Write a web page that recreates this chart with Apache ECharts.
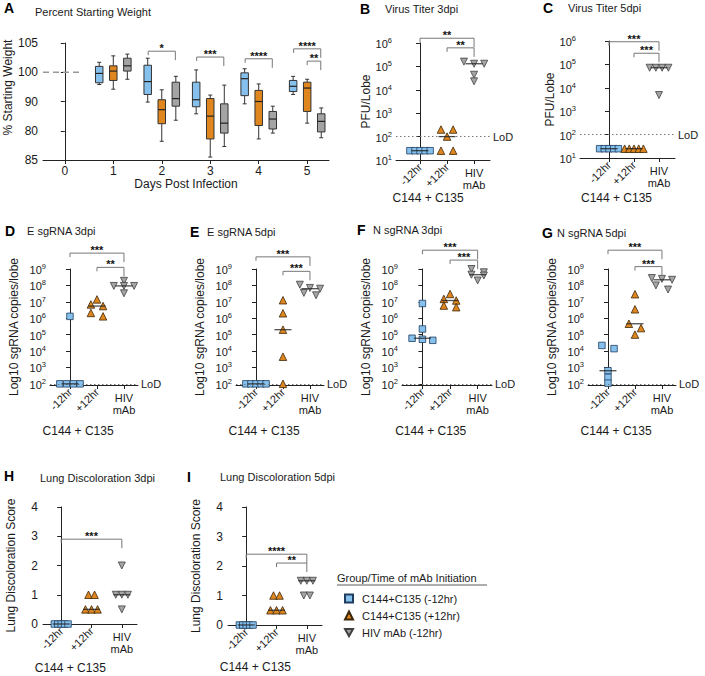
<!DOCTYPE html>
<html><head><meta charset="utf-8">
<script src="https://cdn.jsdelivr.net/npm/echarts@6/dist/echarts.min.js"></script>
<style>html,body{margin:0;padding:0;background:#fff}#c{width:705px;height:676px}</style>
</head><body><div id="c"></div>
<script>
// ---------------- DATA ----------------
const groups = ['C144+C135 (-12hr)', 'C144+C135 (+12hr)', 'HIV mAb (-12hr)'];
const catLabels = ['-12hr', '+12hr', 'HIV\nmAb'];

// Panel A: percent starting weight, box stats [min, q1, median, q3, max] per day
const weightDays = [1, 2, 3, 4, 5];
const weightTicks = [85, 90, 95, 100, 105];
const weightTickLabels = ['85', '80', '90', '100', '105'];
const weightM12 = [[97.9,98.2,99.8,101.0,101.7],[94.9,96.2,98.4,101.2,102.4],[92.9,94.1,95.3,98.3,100.4],[94.6,96.0,98.9,99.9,100.6],[96.2,96.7,97.6,98.6,99.3]];
const weightP12 = [[97.1,98.6,100.2,101.1,102.8],[88.2,91.2,93.6,95.3,97.0],[85.5,88.6,92.5,95.5,96.1],[88.6,90.9,95.0,96.9,98.0],[91.3,93.3,97.3,98.3,98.8]];
const weightHIV = [[98.8,100.2,101.1,102.4,103.1],[91.8,94.2,95.5,98.3,99.3],[87.3,89.6,91.3,94.6,97.8],[89.6,90.3,92.0,93.3,94.2],[88.8,89.8,91.6,92.9,93.9]];
const weightBaseline = [[-0.45, 100], [0.35, 100]];
const weightBrackets = [[1.72, 2.28, 103.6], [2.72, 3.28, 102.6], [3.72, 4.28, 102.3], [4.72, 5.28, 104.0], [5.0, 5.28, 101.9]];
const weightStars = ['*', '***', '****', '****', '**'];

// Panel B: virus titer 3dpi (PFU/lobe)
const titerB_m12 = [25, 25, 25, 25, 25];
const titerB_p12 = [200, 200, 100, 25, 25];
const titerB_hiv = [1.3e5, 1.6e5, 1.3e5, 4.4e4, 2.3e4];
const bracketsB = [[0, 2, 1.6e6], [1, 2, 6.2e5]];
const starsB = ['**', '**'];

// Panel C: virus titer 5dpi
const titerC_m12 = [25, 25, 25, 25, 25];
const titerC_p12 = [25, 25, 25, 25, 25];
const titerC_hiv = [7.2e4, 7.2e4, 7.2e4, 7.2e4, 4.9e3];
const bracketsC = [[0, 2, 9.3e5], [1, 2, 3.0e5]];
const starsC = ['***', '***'];

// Panel D: E sgRNA 3dpi
const esg3_m12 = [1.3e6, 100, 100, 100, 100];
const esg3_p12 = [1.4e7, 6.9e6, 5.5e6, 2.1e6, 1.3e6];
const esg3_hiv = [1.9e8, 9.3e7, 9.3e7, 9.3e7, 3.3e7];
const bracketsD = [[0, 2, 9.3e9], [1, 2, 1.26e9]];
const starsD = ['***', '**'];

// Panel E: E sgRNA 5dpi
const esg5_m12 = [100, 100, 100, 100, 100];
const esg5_p12 = [1.25e7, 2.0e6, 2.0e5, 4.5e3, 100];
const esg5_hiv = [1.1e8, 7.0e7, 6.3e7, 3.5e7, 2.5e7];
const bracketsE = [[0, 2, 5.5e9], [1, 2, 7.2e8]];
const starsE = ['***', '***'];

// Panel F: N sgRNA 3dpi
const nsg3_m12 = [7.9e6, 2.2e5, 6.0e4, 5.2e4, 4.5e4];
const nsg3_p12 = [3.0e7, 1.5e7, 1.2e7, 5.9e6, 4.7e6];
const nsg3_hiv = [1.0e9, 6.3e8, 4.5e8, 4.0e8, 2.0e8];
const bracketsF = [[0, 2, 1.4e10], [1, 2, 3.5e9]];
const starsF = ['***', '***'];

// Panel G: N sgRNA 5dpi
const nsg5_m12 = [2.2e4, 1.4e4, 630, 250, 110];
const nsg5_p12 = [2.9e7, 3.5e6, 4.6e5, 2.5e5, 1.0e5];
const nsg5_hiv = [2.8e8, 2.5e8, 2.2e8, 1.0e8, 5.6e7];
const bracketsG = [[0, 2, 1.4e10], [1, 2, 1.4e9]];
const starsG = ['***', '***'];

// Panel H: lung discoloration 3dpi
const lung3_m12 = [0, 0, 0, 0, 0];
const lung3_p12 = [1, 1, 0.5, 0.5, 0.5];
const lung3_hiv = [2, 1, 1, 1, 0.5];
const bracketsH = [[0, 2, 2.9]];
const starsH = ['***'];

// Panel I: lung discoloration 5dpi
const lung5_m12 = [0, 0, 0, 0, 0];
const lung5_p12 = [1, 1, 0.5, 0.5, 0.5];
const lung5_hiv = [1.5, 1.5, 1.5, 1, 1];
const bracketsI = [[0, 2, 2.4], [1, 2, 2.1]];
const starsI = ['****', '**'];

// ---------------- STYLE / LAYOUT ----------------
const FONT = '"Liberation Sans", Arial, Helvetica, sans-serif';
const TXT = '#1a1a1a';
const COLORS = ['#86c1ee', '#df861f', '#a4a4a4'];
const BORDERS = ['#1f3d5e', '#3b2608', '#404040'];
const SYMBOLS = ['rect', 'triangle', 'path://M0,0L10,0L5,9Z'];
const SYMSIZE = [6.5, 7.5, 7];

const dotPanels = [
  {letter:'B', title:'Virus Titer 3dpi', yName:'PFU/Lobe', log:true, min:10, max:1e6, lod:100,
   values:[titerB_m12, titerB_p12, titerB_hiv], brackets:bracketsB, stars:starsB,
   grid:{left:396, top:43, width:94, height:117}, xr:[-0.89, 2.59], nameGap:22,
   letterPos:[360, 9], titlePos:[385, 9], subY:198, sp:[0.45, 0.75]},
  {letter:'C', title:'Virus Titer 5dpi', yName:'PFU/Lobe', log:true, min:10, max:1e6, lod:100,
   values:[titerC_m12, titerC_p12, titerC_hiv], brackets:bracketsC, stars:starsC,
   grid:{left:580, top:41, width:95, height:117}, xr:[-1.16, 2.64], nameGap:22,
   letterPos:[543, 8], titlePos:[568, 8], subY:198, sp:[0.45, 0.75]},
  {letter:'D', title:'E sgRNA 3dpi', yName:'Log10 sgRNA copies/lobe', log:true, min:85, max:1e9, lod:100,
   values:[esg3_m12, esg3_p12, esg3_hiv], brackets:bracketsD, stars:starsD,
   grid:{left:50, top:269, width:88, height:116}, xr:[-0.74, 2.52], nameGap:30,
   letterPos:[5, 231], titlePos:[27, 231], subY:431, sp:[0.45, 0.75]},
  {letter:'E', title:'E sgRNA 5dpi', yName:'Log10 sgRNA copies/lobe', log:true, min:85, max:1e9, lod:100,
   values:[esg5_m12, esg5_p12, esg5_hiv], brackets:bracketsE, stars:starsE,
   grid:{left:236, top:269, width:88, height:116}, xr:[-0.74, 2.52], nameGap:30,
   letterPos:[190, 232], titlePos:[207, 232], subY:431, sp:[0.45, 0.75]},
  {letter:'F', title:'N sgRNA 3dpi', yName:'Log10 sgRNA copies/lobe', log:true, min:85, max:1e9, lod:100,
   values:[nsg3_m12, nsg3_p12, nsg3_hiv], brackets:bracketsF, stars:starsF,
   grid:{left:402, top:269, width:90, height:116}, xr:[-0.74, 2.52], nameGap:30,
   letterPos:[357, 230], titlePos:[373, 230], subY:431, sp:[0.45, 0.75]},
  {letter:'G', title:'N sgRNA 5dpi', yName:'Log10 sgRNA copies/lobe', log:true, min:85, max:1e9, lod:100,
   values:[nsg5_m12, nsg5_p12, nsg5_hiv], brackets:bracketsG, stars:starsG,
   grid:{left:588, top:269, width:88, height:116}, xr:[-0.74, 2.52], nameGap:30,
   letterPos:[542, 233], titlePos:[557, 233], subY:431, sp:[0.45, 0.75]},
  {letter:'H', title:'Lung Discoloration 3dpi', yName:'Lung Discoloration Score', log:false, min:0, max:4,
   values:[lung3_m12, lung3_p12, lung3_hiv], brackets:bracketsH, stars:starsH,
   grid:{left:43, top:507, width:94, height:117}, xr:[-0.6, 2.5], nameGap:26,
   letterPos:[4, 476], titlePos:[40, 478], subY:668, sp:[0.2, 0.45]},
  {letter:'I', title:'Lung Discoloration 5dpi', yName:'Lung Discoloration Score', log:false, min:0, max:4,
   values:[lung5_m12, lung5_p12, lung5_hiv], brackets:bracketsI, stars:starsI,
   grid:{left:228, top:507, width:94, height:118}, xr:[-0.6, 2.5], nameGap:26,
   letterPos:[187, 477], titlePos:[220, 477], subY:667, sp:[0.2, 0.45]}
];

// ---------------- HELPERS ----------------
function median(arr) {
  const s = arr.slice().sort((a, b) => a - b);
  const n = s.length;
  return n % 2 ? s[(n - 1) / 2] : (s[n / 2 - 1] + s[n / 2]) / 2;
}
// spread points with (nearly) equal values side by side, GraphPad style
function spread(vals, gi, log, sp) {
  const t = vals.map(v => log ? Math.log10(v) : v);
  const thresh = log ? 0.27 : 0.1;
  const order = t.map((v, i) => i).sort((a, b) => t[b] - t[a]);
  const rows = [];
  order.forEach(i => {
    const r = rows[rows.length - 1];
    if (r && Math.abs(t[r[0]] - t[i]) < thresh) r.push(i); else rows.push([i]);
  });
  const out = [];
  rows.forEach(r => {
    const n = r.length;
    const step = n > 1 ? Math.min(sp[0], sp[1] / (n - 1)) : 0;
    r.forEach((i, k) => out.push([gi + (k - (n - 1) / 2) * step, vals[i]]));
  });
  return out;
}
function bracketSeries(xi, yi, data, stars) {
  return {
    type: 'custom', xAxisIndex: xi, yAxisIndex: yi, clip: false, silent: true, z: 6,
    encode: {x: [0, 1], y: 2},
    data: data,
    renderItem: function (params, api) {
      const y = api.value(2);
      const p1 = api.coord([api.value(0), y]);
      const p2 = api.coord([api.value(1), y]);
      return {type: 'group', children: [
        {type: 'polyline', shape: {points: [[p1[0], p1[1] + 4], [p1[0], p1[1]], [p2[0], p2[1]], [p2[0], p2[1] + 9]]},
         style: {stroke: '#777', lineWidth: 1, fill: null}},
        {type: 'text', style: {text: stars[params.dataIndex], x: (p1[0] + p2[0]) / 2, y: p1[1] + 2.5,
         align: 'center', verticalAlign: 'bottom', fontSize: 11, fontWeight: 'bold', fill: '#111', fontFamily: FONT}}
      ]};
    }
  };
}

const grids = [], xAxes = [], yAxes = [], series = [], graphics = [];
const axisLineStyle = {lineStyle: {color: '#222', width: 1}};

// ---------------- PANEL A ----------------
grids.push({left: 43, top: 43, width: 286, height: 117, outerBoundsMode: 'none', containLabel: false});
xAxes.push({gridIndex: 0, type: 'value', position: 'bottom', min: -0.45, max: 5.45, splitLine: {show: false},
  axisLine: Object.assign({show: true}, axisLineStyle),
  axisTick: {show: true, customValues: [0, 1, 2, 3, 4, 5], length: 4, lineStyle: {color: '#222'}},
  axisLabel: {customValues: [0, 1, 2, 3, 4, 5], fontSize: 12, color: TXT, fontFamily: FONT, margin: 5},
  name: 'Days Post Infection', nameLocation: 'middle', nameGap: 18,
  nameTextStyle: {fontSize: 12, color: TXT, fontFamily: FONT}});
yAxes.push({gridIndex: 0, type: 'value', min: 85, max: 105, interval: 5, splitLine: {show: false},
  axisLine: Object.assign({show: true}, axisLineStyle),
  axisTick: {show: true, length: 4, lineStyle: {color: '#222'}},
  axisLabel: {fontSize: 12, color: TXT, fontFamily: FONT, margin: 5,
    formatter: v => weightTickLabels[weightTicks.indexOf(v)]},
  name: '% Starting Weight', nameLocation: 'middle', nameGap: 29, nameRotate: 90,
  nameTextStyle: {fontSize: 12, color: TXT, fontFamily: FONT, padding: [0, 0, 0, 28]}});

const boxOffsets = [-0.29, 0, 0.29];
[weightM12, weightP12, weightHIV].forEach((stats, g) => {
  series.push({
    type: 'custom', xAxisIndex: 0, yAxisIndex: 0, silent: true, clip: false, z: 3,
    encode: {x: 0, y: [1, 2, 3, 4, 5]},
    data: stats.map((s, i) => [weightDays[i] + boxOffsets[g]].concat(s)),
    renderItem: function (params, api) {
      const x = api.value(0);
      const pt = k => api.coord([x, api.value(k)]);
      const pMin = pt(1), pQ1 = pt(2), pMed = pt(3), pQ3 = pt(4), pMax = pt(5);
      const w = 7.5, cap = 2;
      const cx = pMed[0];
      const ls = {stroke: '#333', lineWidth: 1};
      return {type: 'group', children: [
        {type: 'line', shape: {x1: cx, y1: pMax[1], x2: cx, y2: pQ3[1]}, style: ls},
        {type: 'line', shape: {x1: cx, y1: pQ1[1], x2: cx, y2: pMin[1]}, style: ls},
        {type: 'line', shape: {x1: cx - cap, y1: pMax[1], x2: cx + cap, y2: pMax[1]}, style: ls},
        {type: 'line', shape: {x1: cx - cap, y1: pMin[1], x2: cx + cap, y2: pMin[1]}, style: ls},
        {type: 'rect', shape: {x: cx - w / 2, y: pQ3[1], width: w, height: pQ1[1] - pQ3[1]},
         style: {fill: COLORS[g], stroke: '#333', lineWidth: 1}},
        {type: 'line', shape: {x1: cx - w / 2, y1: pMed[1], x2: cx + w / 2, y2: pMed[1]}, style: {stroke: '#222', lineWidth: 1.2}}
      ]};
    }
  });
});
series.push({type: 'line', xAxisIndex: 0, yAxisIndex: 0, data: weightBaseline, symbol: 'none', silent: true,
  lineStyle: {color: '#999', width: 1.3, type: [6, 4]}});
series.push(bracketSeries(0, 0, weightBrackets, weightStars));
graphics.push({type: 'text', x: 4, y: 8, style: {text: 'A', fontSize: 14, fontWeight: 'bold', fill: '#000', fontFamily: FONT, verticalAlign: 'middle'}});
graphics.push({type: 'text', x: 35, y: 12, style: {text: 'Percent Starting Weight', fontSize: 11, fill: TXT, fontFamily: FONT, verticalAlign: 'middle'}});

// ---------------- DOT PANELS ----------------
dotPanels.forEach((p, i) => {
  const gi = i + 1;
  grids.push(Object.assign({outerBoundsMode: 'none', containLabel: false}, p.grid));
  const xa = xAxes.length;
  xAxes.push({gridIndex: gi, type: 'value', position: 'bottom', min: p.xr[0], max: p.xr[1], splitLine: {show: false},
    axisLine: Object.assign({show: true}, axisLineStyle),
    axisTick: {show: true, customValues: [0, 1, 2], length: 4, lineStyle: {color: '#222'}},
    axisLabel: {customValues: [0, 1], rotate: 45, fontSize: 11, color: TXT, fontFamily: FONT, margin: 5,
      formatter: v => catLabels[Math.round(v)]}});
  xAxes.push({gridIndex: gi, type: 'value', position: 'bottom', offset: 0, min: p.xr[0], max: p.xr[1], splitLine: {show: false},
    axisLine: {show: false}, axisTick: {show: false},
    axisLabel: {customValues: [2], fontSize: 11, lineHeight: 12, color: TXT, fontFamily: FONT, margin: 7,
      formatter: v => catLabels[Math.round(v)]}});
  const ya = yAxes.length;
  const y = {gridIndex: gi, min: p.min, max: p.max, splitLine: {show: false},
    axisLine: Object.assign({show: true}, axisLineStyle),
    axisTick: {show: true, length: 4, lineStyle: {color: '#222'}},
    name: p.yName, nameLocation: 'middle', nameGap: p.nameGap, nameRotate: 90,
    nameTextStyle: {fontSize: 12, color: TXT, fontFamily: FONT}};
  if (p.log) {
    const ticks = [];
    for (let e = Math.ceil(Math.log10(p.min)); e <= Math.log10(p.max) + 1e-9; e++) ticks.push(Math.pow(10, e));
    y.type = 'log'; y.logBase = 10;
    y.axisTick.customValues = ticks;
    y.axisLabel = {customValues: ticks, margin: 4,
      formatter: v => '{b|10}{s|' + Math.round(Math.log10(v)) + '}',
      rich: {b: {fontSize: 11, lineHeight: 13, verticalAlign: 'bottom', color: TXT, fontFamily: FONT},
             s: {fontSize: 7.5, lineHeight: 8, verticalAlign: 'top', color: TXT, fontFamily: FONT}}};
  } else {
    y.type = 'value'; y.interval = 1;
    y.axisLabel = {fontSize: 12, color: TXT, fontFamily: FONT, margin: 5};
  }
  yAxes.push(y);

  p.values.forEach((vals, g) => {
    const s = {type: 'scatter', name: groups[g], xAxisIndex: xa, yAxisIndex: ya, clip: false, z: 4,
      symbol: SYMBOLS[g], symbolSize: SYMSIZE[g],
      itemStyle: {color: COLORS[g], borderColor: BORDERS[g], borderWidth: 0.8, opacity: 1},
      data: spread(vals, g, p.log, p.sp)};
    if (g === 0 && p.lod) {
      s.markLine = {silent: true, symbol: 'none', animation: false, data: [{yAxis: p.lod}],
        lineStyle: {type: [1.5, 2.5], color: '#777', width: 1},
        label: {show: true, position: 'end', formatter: 'LoD', color: TXT, fontSize: 11, fontFamily: FONT, distance: 3}};
    }
    series.push(s);
  });
  series.push({type: 'scatter', xAxisIndex: xa, yAxisIndex: ya, clip: false, z: 5, silent: true,
    symbol: 'rect', symbolSize: [17, 1.3], itemStyle: {color: '#222'},
    data: p.values.map((vals, g) => [g, median(vals)])});
  series.push(bracketSeries(xa, ya, p.brackets, p.stars));

  graphics.push({type: 'text', x: p.letterPos[0], y: p.letterPos[1], style: {text: p.letter, fontSize: 14, fontWeight: 'bold', fill: '#000', fontFamily: FONT, verticalAlign: 'middle'}});
  graphics.push({type: 'text', x: p.titlePos[0], y: p.titlePos[1], style: {text: p.title, fontSize: 11, fill: TXT, fontFamily: FONT, verticalAlign: 'middle'}});
  const unit = p.grid.width / (p.xr[1] - p.xr[0]);
  const subX = p.grid.left + (0 - p.xr[0]) * unit + 0.3 * unit;
  graphics.push({type: 'text', x: subX, y: p.subY, style: {text: 'C144 + C135', fontSize: 12, fill: TXT, fontFamily: FONT, align: 'center', verticalAlign: 'middle'}});
});

// ---------------- LEGEND ----------------
graphics.push({type: 'text', x: 337, y: 578, style: {text: 'Group/Time of mAb Initiation', fontSize: 11, fill: TXT, fontFamily: FONT, verticalAlign: 'middle'}});
graphics.push({type: 'line', shape: {x1: 337, y1: 585, x2: 487, y2: 585}, style: {stroke: '#333', lineWidth: 0.8}});

const chart = echarts.init(document.getElementById('c'), null, {renderer: 'svg'});
chart.setOption({
  animation: false,
  backgroundColor: '#fff',
  textStyle: {fontFamily: FONT},
  grid: grids, xAxis: xAxes, yAxis: yAxes, series: series,
  legend: {left: 339, top: 588, orient: 'vertical', itemWidth: 8, itemHeight: 8, itemGap: 6, selectedMode: false,
    textStyle: {fontSize: 11, color: TXT, fontFamily: FONT, padding: [0, 0, 0, 4]},
    data: groups.map((g, k) => ({name: g, icon: SYMBOLS[k]}))},
  graphic: graphics
});
</script></body></html>
